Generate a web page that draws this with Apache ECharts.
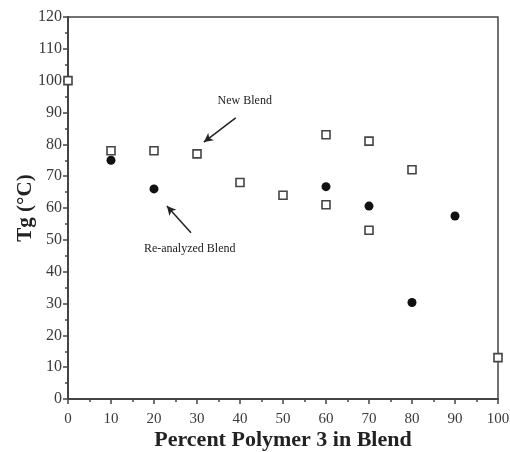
<!DOCTYPE html>
<html>
<head>
<meta charset="utf-8">
<script src="https://cdn.jsdelivr.net/npm/echarts@6/dist/echarts.min.js"></script>
<style>
  html, body { margin: 0; padding: 0; background: #fff; }
  #chart { width: 510px; height: 452px; }
</style>
</head>
<body>
<div id="chart"></div>
<script>
// data
const newBlendX = [0, 10, 20, 30, 40, 50, 60, 60, 70, 70, 80, 100];
const newBlendY = [100, 78, 78, 77, 68, 64, 83, 61, 81, 53, 72, 13];
const reBlendX = [10, 20, 60, 70, 80, 90];
const reBlendY = [75, 66, 66.7, 60.6, 30.3, 57.5];

// annotation anchors in data coordinates
const newArrow = [[39, 88.3], [31.6, 80.7]];
const reArrow = [[28.6, 52.2], [23, 60.6]];
const newLabel = [41.1, 93.6];
const reLabel = [28.3, 47.1];

const serif = "'Liberation Serif', 'DejaVu Serif', serif";
const ink = "#3a3a3a";

const chart = echarts.init(document.getElementById("chart"));

const zip = (xs, ys) => xs.map((x, i) => [x, ys[i]]);

chart.setOption({
  animation: false,
  grid: {
    left: 68, right: 12, top: 17, bottom: 53,
    containLabel: false,
    outerBoundsMode: "none",
    show: true, borderColor: "#444", borderWidth: 1.5
  },
  xAxis: {
    type: "value", min: 0, max: 100, interval: 10,
    name: "Percent Polymer 3 in Blend",
    nameLocation: "middle", nameGap: 30, nameMoveOverlap: false,
    nameTextStyle: { fontFamily: serif, fontWeight: "bold", fontSize: 22, color: "#222" },
    axisLine: { show: true, lineStyle: { color: "#444", width: 2 } },
    axisTick: { show: true, length: 5, lineStyle: { color: "#444", width: 1.5 } },
    minorTick: { show: true, splitNumber: 2, length: 3, lineStyle: { color: "#444", width: 1.5 } },
    axisLabel: { fontFamily: serif, fontSize: 15, color: ink, margin: 13 },
    splitLine: { show: false }
  },
  yAxis: {
    type: "value", min: 0, max: 120, interval: 10,
    name: "Tg (°C)",
    nameLocation: "middle", nameGap: 32, nameMoveOverlap: false,
    nameTextStyle: { fontFamily: serif, fontWeight: "bold", fontSize: 21, color: "#222" },
    axisLine: { show: true, lineStyle: { color: "#444", width: 2 } },
    axisTick: { show: true, length: 5, lineStyle: { color: "#444", width: 1.5 } },
    minorTick: { show: true, splitNumber: 2, length: 3, lineStyle: { color: "#444", width: 1.5 } },
    axisLabel: { fontFamily: serif, fontSize: 16, color: ink, margin: 6 },
    splitLine: { show: false }
  },
  series: [
    {
      name: "New Blend",
      type: "scatter",
      data: zip(newBlendX, newBlendY),
      symbol: "rect",
      symbolSize: 8,
      itemStyle: { color: "#fff", borderColor: "#444", borderWidth: 1.6, opacity: 1 },
      z: 3
    },
    {
      name: "Re-analyzed Blend",
      type: "scatter",
      data: zip(reBlendX, reBlendY),
      symbol: "circle",
      symbolSize: 9,
      itemStyle: { color: "#111", opacity: 1 },
      z: 3
    },
    {
      // annotations
      type: "scatter",
      data: [],
      silent: true,
      markLine: {
        silent: true,
        symbol: ["none", "arrow"],
        symbolSize: [7, 9],
        lineStyle: { color: "#222", width: 1.5, type: "solid" },
        label: { show: false },
        data: [
          [{ coord: newArrow[0] }, { coord: newArrow[1] }],
          [{ coord: reArrow[0] }, { coord: reArrow[1] }]
        ]
      },
      markPoint: {
        silent: true,
        symbol: "circle",
        symbolSize: 1,
        itemStyle: { color: "transparent" },
        label: {
          show: true, position: "inside",
          fontFamily: serif, fontSize: 12, color: "#222"
        },
        data: [
          { coord: newLabel, label: { formatter: "New Blend" } },
          { coord: reLabel, label: { formatter: "Re-analyzed Blend" } }
        ]
      }
    }
  ]
});
</script>
</body>
</html>
